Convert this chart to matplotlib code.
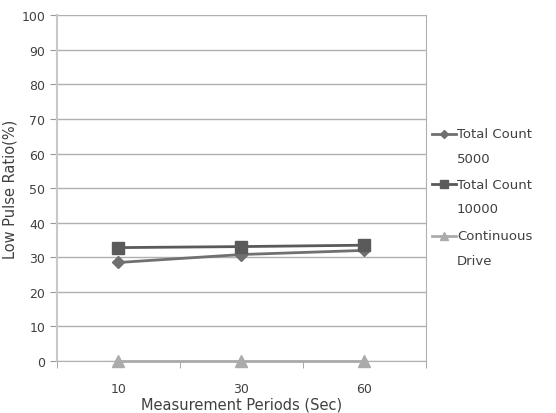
import matplotlib.pyplot as plt
from matplotlib.lines import Line2D

periods = ["10", "30", "60"]
count_5000 = [28.5, 30.8, 32.0]
count_10000 = [32.8, 33.1, 33.5]
continuous = [0.0, 0.0, 0.0]
labels = [("Total Count", "5000"), ("Total Count", "10000"), ("Continuous", "Drive")]

plt.rcParams["font.family"] = ["DejaVu Sans"]
text_color = "#404040"

fig = plt.figure(figsize=(5.56, 4.14), dpi=100)
ax = fig.add_axes([0.1025, 0.1256, 0.6635, 0.835])

styles = [
    dict(marker="D", color="#707070", markersize=6),
    dict(marker="s", color="#5a5a5a", markersize=8.5),
    dict(marker="^", color="#ababab", markersize=8),
]
x = range(len(periods))
for vals, st in zip([count_5000, count_10000, continuous], styles):
    ax.plot(x, vals, linestyle="-", linewidth=2, clip_on=False, zorder=3, **st)

ax.set_xlim(-0.5, 2.5)
ax.set_ylim(0, 100)
ax.set_yticks(range(0, 101, 10))
ax.set_xticks(list(x))
ax.set_xticklabels(periods)
ax.set_xticks([-0.5, 0.5, 1.5, 2.5], minor=True)
ax.tick_params(axis="x", which="major", length=0, pad=15, labelsize=9, colors=text_color)
ax.tick_params(axis="x", which="minor", length=5, color="#999999")
ax.tick_params(axis="y", length=5, color="#999999", labelsize=9, colors=text_color)
ax.yaxis.grid(True, color="#b0b0b0", linewidth=1)
ax.set_axisbelow(True)

ax.spines["top"].set_visible(False)
ax.spines["left"].set_color("#c8c8c8")
ax.spines["left"].set_linewidth(1.5)
ax.spines["right"].set_color("#b0b0b0")
ax.spines["bottom"].set_color("#b0b0b0")

ax.set_xlabel("Measurement Periods (Sec)", fontsize=10.5, color=text_color, labelpad=1)
ax.set_ylabel("Low Pulse Ratio(%)", fontsize=10.5, color=text_color, labelpad=3)

# legend drawn by hand: handle beside first line, second line below
legend_y = [0.674, 0.553, 0.428]
for (first, second), st, y in zip(labels, styles, legend_y):
    fig.add_artist(Line2D([0.777, 0.7985, 0.820], [y, y, y], transform=fig.transFigure,
                          linewidth=2, marker=st["marker"], color=st["color"],
                          markersize=st["markersize"] * 0.75, markevery=[1]))
    fig.text(0.822, y, first, fontsize=9.5, color=text_color, va="center")
    fig.text(0.822, y - 0.059, second, fontsize=9.5, color=text_color, va="center")

plt.savefig("out.png", dpi=100)
